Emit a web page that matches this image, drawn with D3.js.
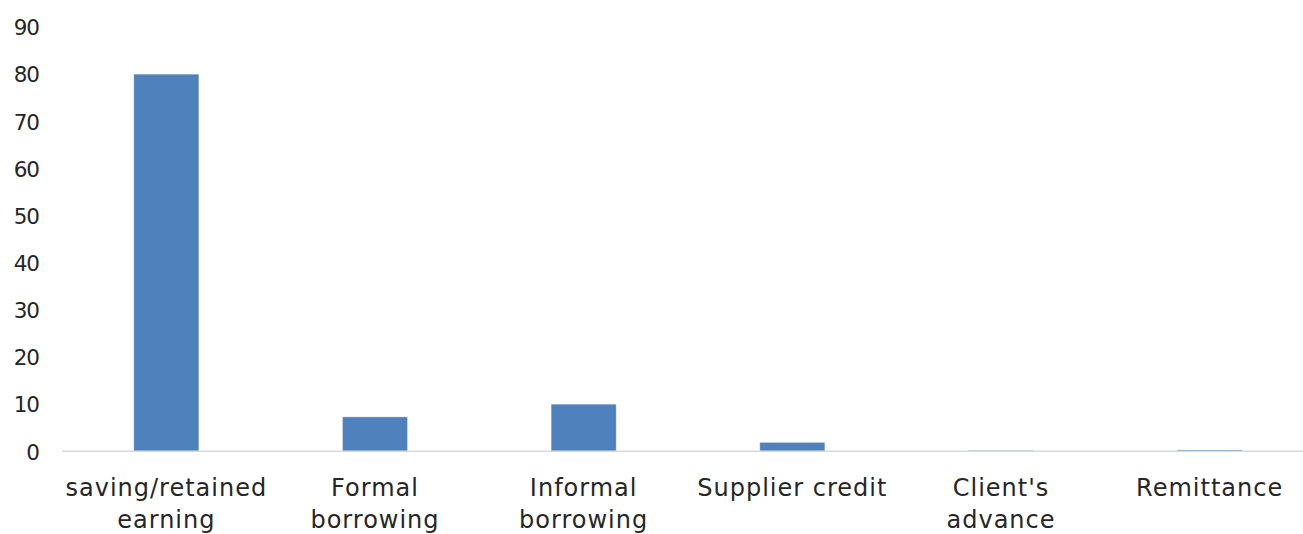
<!DOCTYPE html>
<html>
<head>
<meta charset="utf-8">
<script src="https://cdn.jsdelivr.net/npm/d3@7"></script>
<style>
  html, body { margin: 0; padding: 0; background: #fff; }
  svg { display: block; }
  text { font-family: "DejaVu Sans", sans-serif; fill: #262626; }
</style>
</head>
<body>
<svg id="chart" width="1303" height="534"></svg>
<script>
const categories = ["saving/retained earning", "Formal borrowing", "Informal borrowing", "Supplier credit", "Client's advance", "Remittance"];
const categoryLines = [["saving/retained", "earning"], ["Formal", "borrowing"], ["Informal", "borrowing"], ["Supplier credit"], ["Client's", "advance"], ["Remittance"]];
const values = [80, 7.3, 10, 1.9, 0.2, 0.3];
const yTicks = [0, 10, 20, 30, 40, 50, 60, 70, 80, 90];

const svg = d3.select("#chart");
const x = d3.scaleBand().domain(categories).range([62, 1314]).paddingInner(0.688).paddingOuter(0.344);
const y = d3.scaleLinear().domain([0, 90]).range([451.3, 27]);

// y axis labels
const yAxis = d3.axisLeft(y).tickValues(yTicks).tickSize(0).tickPadding(0);
const gy = svg.append("g").attr("transform", "translate(39,0)").call(yAxis);
gy.select(".domain").remove();
gy.selectAll("text").attr("font-size", 21.5).attr("fill", "#262626")
  .attr("letter-spacing", -1)
  .style("font-family", '"DejaVu Sans", sans-serif').attr("dy", "0.36em");

// bars
svg.append("g").selectAll("rect").data(values).join("rect")
  .attr("x", (d, i) => x(categories[i]))
  .attr("width", x.bandwidth())
  .attr("y", d => y(d))
  .attr("height", d => y(0) - y(d))
  .attr("fill", "#4f81bd")
  .attr("stroke", "#ffffff").attr("stroke-width", 0.75).attr("stroke-opacity", 0.5);

// baseline
svg.append("line").attr("x1", 62).attr("x2", 1314).attr("y1", y(0)).attr("y2", y(0))
  .attr("stroke", "#d9d9d9").attr("stroke-width", 1.5);

// x axis labels
const xAxis = d3.axisBottom(x).tickSize(0).tickFormat(() => "");
const gx = svg.append("g").attr("transform", `translate(0,${y(0)})`).call(xAxis);
gx.select(".domain").remove();
gx.selectAll(".tick").each(function(d, i) {
  const t = d3.select(this).append("text")
    .attr("text-anchor", "middle").attr("font-size", 24).attr("fill", "#262626")
    .attr("letter-spacing", 1)
    .style("font-family", '"DejaVu Sans", sans-serif');
  categoryLines[i].forEach((line, k) => {
    t.append("tspan").attr("x", 0).attr("y", 36 + k * 32).attr("dy", "0.35em").text(line);
  });
});
</script>
</body>
</html>
